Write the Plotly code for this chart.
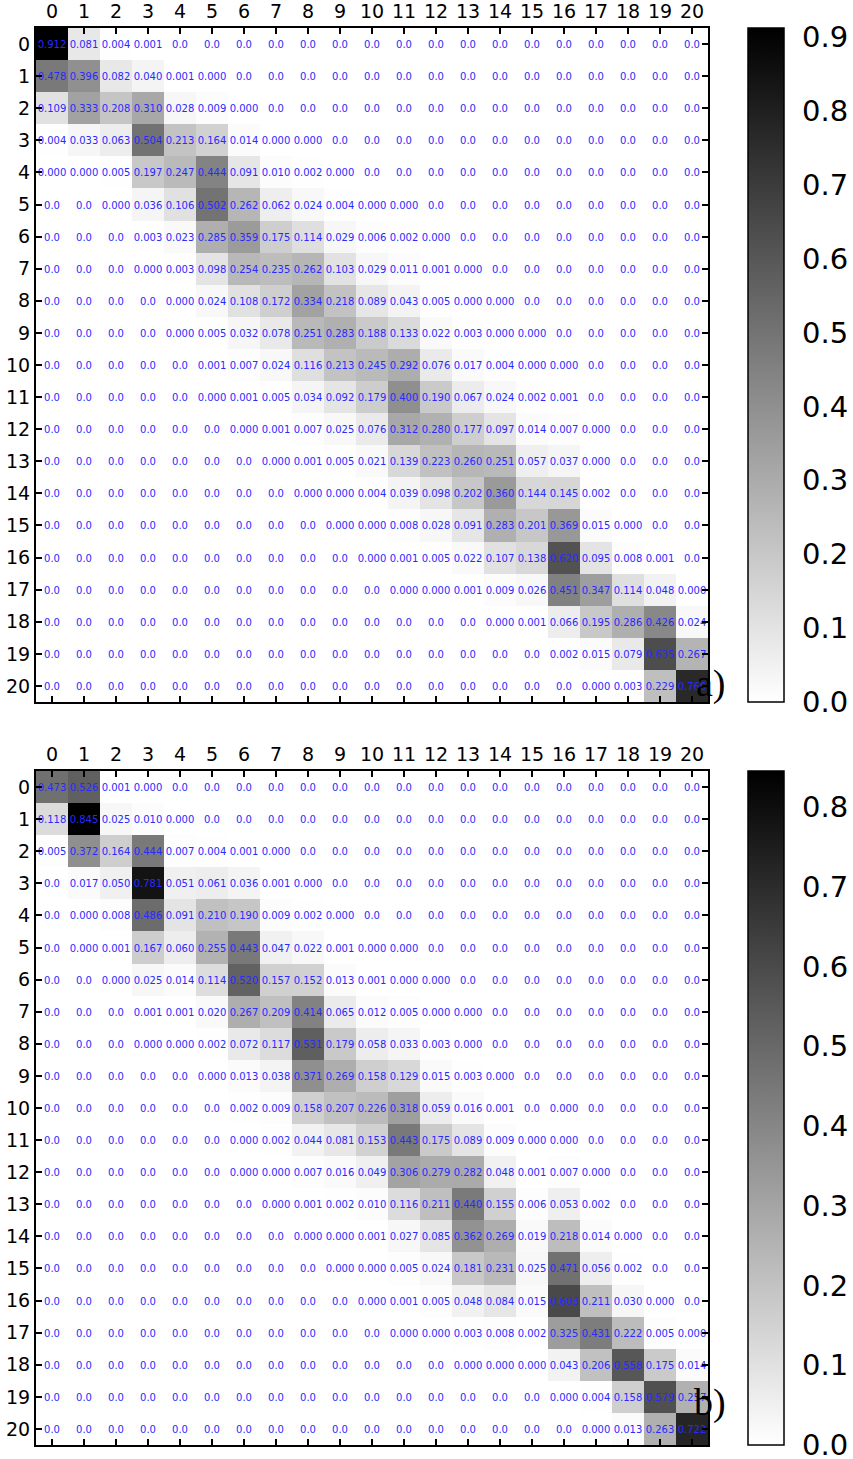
import plotly.graph_objects as go

# tick labels (states 0..20)
states = [str(i) for i in range(21)]

# transition matrix a) - one string per row, as printed in the cells
rows_a = [
    "0.912 0.081 0.004 0.001 0.0 0.0 0.0 0.0 0.0 0.0 0.0 0.0 0.0 0.0 0.0 0.0 0.0 0.0 0.0 0.0 0.0",
    "0.478 0.396 0.082 0.040 0.001 0.000 0.0 0.0 0.0 0.0 0.0 0.0 0.0 0.0 0.0 0.0 0.0 0.0 0.0 0.0 0.0",
    "0.109 0.333 0.208 0.310 0.028 0.009 0.000 0.0 0.0 0.0 0.0 0.0 0.0 0.0 0.0 0.0 0.0 0.0 0.0 0.0 0.0",
    "0.004 0.033 0.063 0.504 0.213 0.164 0.014 0.000 0.000 0.0 0.0 0.0 0.0 0.0 0.0 0.0 0.0 0.0 0.0 0.0 0.0",
    "0.000 0.000 0.005 0.197 0.247 0.444 0.091 0.010 0.002 0.000 0.0 0.0 0.0 0.0 0.0 0.0 0.0 0.0 0.0 0.0 0.0",
    "0.0 0.0 0.000 0.036 0.106 0.502 0.262 0.062 0.024 0.004 0.000 0.000 0.0 0.0 0.0 0.0 0.0 0.0 0.0 0.0 0.0",
    "0.0 0.0 0.0 0.003 0.023 0.285 0.359 0.175 0.114 0.029 0.006 0.002 0.000 0.0 0.0 0.0 0.0 0.0 0.0 0.0 0.0",
    "0.0 0.0 0.0 0.000 0.003 0.098 0.254 0.235 0.262 0.103 0.029 0.011 0.001 0.000 0.0 0.0 0.0 0.0 0.0 0.0 0.0",
    "0.0 0.0 0.0 0.0 0.000 0.024 0.108 0.172 0.334 0.218 0.089 0.043 0.005 0.000 0.000 0.0 0.0 0.0 0.0 0.0 0.0",
    "0.0 0.0 0.0 0.0 0.000 0.005 0.032 0.078 0.251 0.283 0.188 0.133 0.022 0.003 0.000 0.000 0.0 0.0 0.0 0.0 0.0",
    "0.0 0.0 0.0 0.0 0.0 0.001 0.007 0.024 0.116 0.213 0.245 0.292 0.076 0.017 0.004 0.000 0.000 0.0 0.0 0.0 0.0",
    "0.0 0.0 0.0 0.0 0.0 0.000 0.001 0.005 0.034 0.092 0.179 0.400 0.190 0.067 0.024 0.002 0.001 0.0 0.0 0.0 0.0",
    "0.0 0.0 0.0 0.0 0.0 0.0 0.000 0.001 0.007 0.025 0.076 0.312 0.280 0.177 0.097 0.014 0.007 0.000 0.0 0.0 0.0",
    "0.0 0.0 0.0 0.0 0.0 0.0 0.0 0.000 0.001 0.005 0.021 0.139 0.223 0.260 0.251 0.057 0.037 0.000 0.0 0.0 0.0",
    "0.0 0.0 0.0 0.0 0.0 0.0 0.0 0.0 0.000 0.000 0.004 0.039 0.098 0.202 0.360 0.144 0.145 0.002 0.0 0.0 0.0",
    "0.0 0.0 0.0 0.0 0.0 0.0 0.0 0.0 0.0 0.000 0.000 0.008 0.028 0.091 0.283 0.201 0.369 0.015 0.000 0.0 0.0",
    "0.0 0.0 0.0 0.0 0.0 0.0 0.0 0.0 0.0 0.0 0.000 0.001 0.005 0.022 0.107 0.138 0.620 0.095 0.008 0.001 0.0",
    "0.0 0.0 0.0 0.0 0.0 0.0 0.0 0.0 0.0 0.0 0.0 0.000 0.000 0.001 0.009 0.026 0.451 0.347 0.114 0.048 0.000",
    "0.0 0.0 0.0 0.0 0.0 0.0 0.0 0.0 0.0 0.0 0.0 0.0 0.0 0.0 0.000 0.001 0.066 0.195 0.286 0.426 0.024",
    "0.0 0.0 0.0 0.0 0.0 0.0 0.0 0.0 0.0 0.0 0.0 0.0 0.0 0.0 0.0 0.0 0.002 0.015 0.079 0.635 0.267",
    "0.0 0.0 0.0 0.0 0.0 0.0 0.0 0.0 0.0 0.0 0.0 0.0 0.0 0.0 0.0 0.0 0.0 0.000 0.003 0.229 0.766",
]

# transition matrix b)
rows_b = [
    "0.473 0.526 0.001 0.000 0.0 0.0 0.0 0.0 0.0 0.0 0.0 0.0 0.0 0.0 0.0 0.0 0.0 0.0 0.0 0.0 0.0",
    "0.118 0.845 0.025 0.010 0.000 0.0 0.0 0.0 0.0 0.0 0.0 0.0 0.0 0.0 0.0 0.0 0.0 0.0 0.0 0.0 0.0",
    "0.005 0.372 0.164 0.444 0.007 0.004 0.001 0.000 0.0 0.0 0.0 0.0 0.0 0.0 0.0 0.0 0.0 0.0 0.0 0.0 0.0",
    "0.0 0.017 0.050 0.781 0.051 0.061 0.036 0.001 0.000 0.0 0.0 0.0 0.0 0.0 0.0 0.0 0.0 0.0 0.0 0.0 0.0",
    "0.0 0.000 0.008 0.486 0.091 0.210 0.190 0.009 0.002 0.000 0.0 0.0 0.0 0.0 0.0 0.0 0.0 0.0 0.0 0.0 0.0",
    "0.0 0.000 0.001 0.167 0.060 0.255 0.443 0.047 0.022 0.001 0.000 0.000 0.0 0.0 0.0 0.0 0.0 0.0 0.0 0.0 0.0",
    "0.0 0.0 0.000 0.025 0.014 0.114 0.520 0.157 0.152 0.013 0.001 0.000 0.000 0.0 0.0 0.0 0.0 0.0 0.0 0.0 0.0",
    "0.0 0.0 0.0 0.001 0.001 0.020 0.267 0.209 0.414 0.065 0.012 0.005 0.000 0.000 0.0 0.0 0.0 0.0 0.0 0.0 0.0",
    "0.0 0.0 0.0 0.000 0.000 0.002 0.072 0.117 0.531 0.179 0.058 0.033 0.003 0.000 0.0 0.0 0.0 0.0 0.0 0.0 0.0",
    "0.0 0.0 0.0 0.0 0.0 0.000 0.013 0.038 0.371 0.269 0.158 0.129 0.015 0.003 0.000 0.0 0.0 0.0 0.0 0.0 0.0",
    "0.0 0.0 0.0 0.0 0.0 0.0 0.002 0.009 0.158 0.207 0.226 0.318 0.059 0.016 0.001 0.0 0.000 0.0 0.0 0.0 0.0",
    "0.0 0.0 0.0 0.0 0.0 0.0 0.000 0.002 0.044 0.081 0.153 0.443 0.175 0.089 0.009 0.000 0.000 0.0 0.0 0.0 0.0",
    "0.0 0.0 0.0 0.0 0.0 0.0 0.000 0.000 0.007 0.016 0.049 0.306 0.279 0.282 0.048 0.001 0.007 0.000 0.0 0.0 0.0",
    "0.0 0.0 0.0 0.0 0.0 0.0 0.0 0.000 0.001 0.002 0.010 0.116 0.211 0.440 0.155 0.006 0.053 0.002 0.0 0.0 0.0",
    "0.0 0.0 0.0 0.0 0.0 0.0 0.0 0.0 0.000 0.000 0.001 0.027 0.085 0.362 0.269 0.019 0.218 0.014 0.000 0.0 0.0",
    "0.0 0.0 0.0 0.0 0.0 0.0 0.0 0.0 0.0 0.000 0.000 0.005 0.024 0.181 0.231 0.025 0.471 0.056 0.002 0.0 0.0",
    "0.0 0.0 0.0 0.0 0.0 0.0 0.0 0.0 0.0 0.0 0.000 0.001 0.005 0.048 0.084 0.015 0.603 0.211 0.030 0.000 0.0",
    "0.0 0.0 0.0 0.0 0.0 0.0 0.0 0.0 0.0 0.0 0.0 0.000 0.000 0.003 0.008 0.002 0.325 0.431 0.222 0.005 0.000",
    "0.0 0.0 0.0 0.0 0.0 0.0 0.0 0.0 0.0 0.0 0.0 0.0 0.0 0.000 0.000 0.000 0.043 0.206 0.558 0.175 0.014",
    "0.0 0.0 0.0 0.0 0.0 0.0 0.0 0.0 0.0 0.0 0.0 0.0 0.0 0.0 0.0 0.0 0.000 0.004 0.158 0.579 0.257",
    "0.0 0.0 0.0 0.0 0.0 0.0 0.0 0.0 0.0 0.0 0.0 0.0 0.0 0.0 0.0 0.0 0.0 0.000 0.013 0.263 0.722",
]

cbar_ticks_a = [0.0, 0.1, 0.2, 0.3, 0.4, 0.5, 0.6, 0.7, 0.8, 0.9]
cbar_ticks_b = [0.0, 0.1, 0.2, 0.3, 0.4, 0.5, 0.6, 0.7, 0.8]
panel_labels = ["a)", "b)"]


def parse(rows):
    text = [r.split() for r in rows]
    z = [[float(v) for v in r] for r in text]
    return z, text


W, H = 853, 1459


def px(x):
    return x / W


def py(y):
    return 1 - y / H


x0, x1 = px(36), px(708)
dom_a = [py(702), py(28)]
dom_b = [py(1445), py(771)]

fig = go.Figure()
for i, (rows, ticks, dom) in enumerate([(rows_a, cbar_ticks_a, dom_a), (rows_b, cbar_ticks_b, dom_b)]):
    z, text = parse(rows)
    zmax = max(max(r) for r in z)
    fig.add_trace(go.Heatmap(
        z=z, x=states, y=states, text=text, texttemplate="%{text}",
        textfont=dict(color="#2a2aff", size=10, family="DejaVu Sans"),
        colorscale=[[0, "white"], [1, "black"]], zmin=0, zmax=zmax,
        xaxis="x" if i == 0 else "x2", yaxis="y" if i == 0 else "y2",
        colorbar=dict(
            x=px(748), xanchor="left", thickness=36, thicknessmode="pixels",
            y=dom[1], yanchor="top", len=dom[1] - dom[0], lenmode="fraction",
            outlinecolor="black", outlinewidth=1.5,
            ticks="outside", ticklen=12, tickcolor="rgba(0,0,0,0)",
            tickvals=ticks, ticktext=["%.1f" % t for t in ticks],
            ticklabeloverflow="allow",
            tickfont=dict(size=29, family="DejaVu Sans", color="black"),
            xpad=0, ypad=0,
        ),
    ))

axis_style = dict(
    showline=True, linecolor="black", linewidth=2, mirror="ticks",
    ticks="inside", ticklen=6, tickwidth=1.5, tickcolor="black",
    tickfont=dict(size=19, family="DejaVu Sans", color="black"),
    showgrid=False, zeroline=False, automargin=False,
)
fig.update_layout(
    width=W, height=H, margin=dict(l=0, r=0, t=0, b=0, autoexpand=False),
    paper_bgcolor="white", plot_bgcolor="white",
    xaxis=dict(domain=[x0, x1], side="top", anchor="y", **axis_style),
    yaxis=dict(domain=dom_a, autorange="reversed", anchor="x", **axis_style),
    xaxis2=dict(domain=[x0, x1], side="top", anchor="y2", **axis_style),
    yaxis2=dict(domain=dom_b, autorange="reversed", anchor="x2", **axis_style),
    annotations=[
        dict(text=panel_labels[0], x=px(728), y=py(683), xref="paper", yref="paper",
             showarrow=False, font=dict(size=38, family="Liberation Serif", color="black")),
        dict(text=panel_labels[1], x=px(728), y=py(1426), xref="paper", yref="paper",
             showarrow=False, font=dict(size=38, family="Liberation Serif", color="black")),
    ],
)

# drop the default page margin so the figure fills the window from its top-left corner
fig.write_html("out.html", config={"displayModeBar": False},
               post_script="document.body.style.margin = '0px';")
